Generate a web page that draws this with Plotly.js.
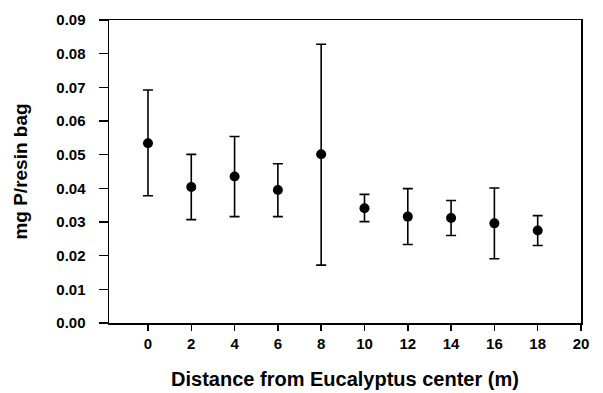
<!DOCTYPE html>
<html>
<head>
<meta charset="utf-8">
<script src="https://cdn.plot.ly/plotly-3.0.1.min.js"></script>
<style>html,body{margin:0;padding:0;background:#fff;}#chart{width:603px;height:393px;}</style>
</head>
<body>
<div id="chart"></div>
<script>
const distance = [0, 2, 4, 6, 8, 10, 12, 14, 16, 18];
const meanP = [0.0534, 0.0404, 0.0435, 0.0395, 0.0501, 0.0341, 0.0316, 0.0312, 0.0296, 0.0275];
const upperP = [0.0692, 0.0501, 0.0554, 0.0473, 0.0828, 0.0382, 0.0399, 0.0364, 0.0401, 0.0319];
const lowerP = [0.0378, 0.0307, 0.0316, 0.0316, 0.0172, 0.0301, 0.0233, 0.0260, 0.0191, 0.0230];
const xTicks = [0, 2, 4, 6, 8, 10, 12, 14, 16, 18, 20];
const yTicks = [0, 0.01, 0.02, 0.03, 0.04, 0.05, 0.06, 0.07, 0.08, 0.09];
const yTickText = yTicks.map(v => v.toFixed(2));

const errPlus = upperP.map((u, i) => u - meanP[i]);
const errMinus = lowerP.map((l, i) => meanP[i] - l);

const trace = {
  x: distance, y: meanP, type: 'scatter', mode: 'markers',
  marker: {color: '#000', size: 10, symbol: 'circle'},
  error_y: {type: 'data', symmetric: false, array: errPlus, arrayminus: errMinus,
            color: '#000', thickness: 1.6, width: 5},
  showlegend: false, hoverinfo: 'none'
};

const font = {family: '"Liberation Sans", Arial, sans-serif', color: '#000'};
const layout = {
  width: 603, height: 393,
  margin: {l: 109, r: 22, t: 20, b: 70},
  paper_bgcolor: '#fff', plot_bgcolor: '#fff',
  font: font,
  xaxis: {
    range: [-1.8, 20], tickvals: xTicks, ticktext: xTicks.map(String),
    ticks: 'outside', ticklen: 6, tickwidth: 1.5, tickcolor: '#000',
    showline: true, linecolor: '#000', linewidth: 1.5, mirror: true,
    showgrid: false, zeroline: false,
    tickfont: {family: font.family, size: 15, color: '#000', weight: 'bold'},
    title: {text: 'Distance from Eucalyptus center (m)', standoff: 21,
            font: {family: font.family, size: 20, color: '#000', weight: 'bold'}}
  },
  yaxis: {
    range: [0, 0.09], tickvals: yTicks, ticktext: yTickText,
    ticks: 'outside', ticklen: 9, tickwidth: 1.5, tickcolor: '#000',
    ticklabelstandoff: 10,
    showline: true, linecolor: '#000', linewidth: 1.5, mirror: true,
    showgrid: false, zeroline: false,
    tickfont: {family: font.family, size: 15, color: '#000', weight: 'bold'},
    title: {text: 'mg P/resin bag', standoff: 23,
            font: {family: font.family, size: 19, color: '#000', weight: 'bold'}}
  }
};

Plotly.newPlot('chart', [trace], layout, {displayModeBar: false, staticPlot: true});
</script>
</body>
</html>
